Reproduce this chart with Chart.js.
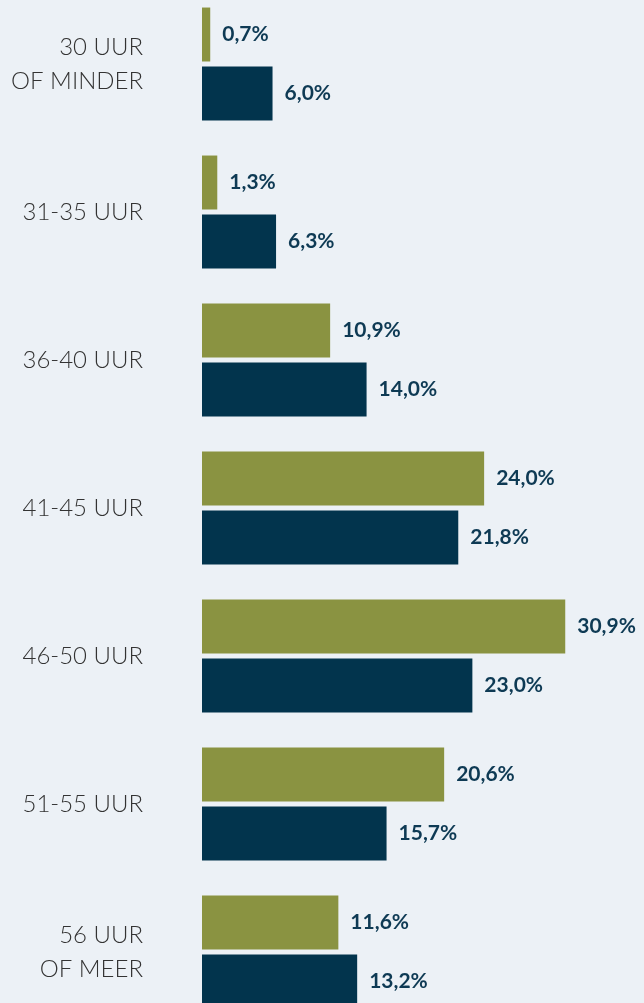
<!DOCTYPE html>
<html>
<head>
<meta charset="utf-8">
<script src="https://cdn.jsdelivr.net/npm/chart.js@4"></script>
<style>
  html, body { margin:0; padding:0; background:#ECF1F6; overflow:hidden; }
  #c { position:absolute; left:0; top:-10px; }
</style>
</head>
<body>
<canvas id="c" width="644" height="1036"></canvas>
<script>
const categories = [
  ['30 UUR', 'OF MINDER'],
  '31-35 UUR',
  '36-40 UUR',
  '41-45 UUR',
  '46-50 UUR',
  '51-55 UUR',
  ['56 UUR', 'OF MEER']
];
const seriesA = [0.7, 1.3, 10.9, 24.0, 30.9, 20.6, 11.6];
const seriesB = [6.0, 6.3, 14.0, 21.8, 23.0, 15.7, 13.2];

const valueLabels = {
  id: 'valueLabels',
  afterDatasetsDraw(chart) {
    const ctx = chart.ctx;
    ctx.save();
    ctx.font = 'bold 21px Lato';
    ctx.fillStyle = '#0E3A54';
    ctx.textAlign = 'left';
    ctx.textBaseline = 'middle';
    chart.data.datasets.forEach((ds, di) => {
      chart.getDatasetMeta(di).data.forEach((bar, i) => {
        const txt = ds.data[i].toFixed(1).replace('.', ',') + '%';
        ctx.fillText(txt, bar.x + 12, bar.y);
      });
    });
    ctx.restore();
  }
};

new Chart(document.getElementById('c'), {
  type: 'bar',
  data: {
    labels: categories,
    datasets: [
      { data: seriesA, backgroundColor: '#8A9341', categoryPercentage: 0.797, barPercentage: 0.915 },
      { data: seriesB, backgroundColor: '#02344D', categoryPercentage: 0.797, barPercentage: 0.915 }
    ]
  },
  options: {
    indexAxis: 'y',
    responsive: false,
    animation: false,
    layout: { padding: 0 },
    plugins: { legend: { display: false }, tooltip: { enabled: false } },
    scales: {
      x: { display: false, min: 0, max: 37.6 },
      y: {
        afterFit(scale) {
          scale.width = 202;
          scale.paddingTop = 0;
          scale.paddingBottom = 0;
        },
        grid: { display: false, drawTicks: false },
        border: { display: false },
        ticks: {
          padding: 59,
          color: '#333333',
          font: { family: 'Lato', size: 24, weight: 300, lineHeight: 1.42 }
        }
      }
    }
  },
  plugins: [valueLabels]
});
</script>
</body>
</html>
